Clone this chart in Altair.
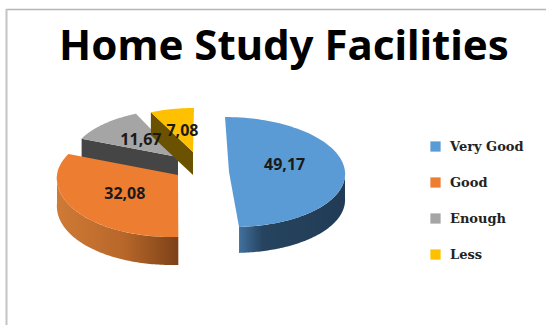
import numpy as np
import altair as alt

TITLE = "Home Study Facilities"
categories = ["Very Good", "Good", "Enough", "Less"]
values = [49.17, 32.08, 11.67, 7.08]
labels = ["49,17", "32,08", "11,67", "7,08"]
top_colors = ["#5b9bd5", "#ed7d31", "#a5a5a5", "#ffc000"]

# Tilted pie geometry for each exploded slice, in page pixels.
slices = {
    "Very Good": dict(cx=229, cy=172, a=116, b_back=55, b_front=55, shear=-4, depth=26, label=(0.48, -6)),
    "Good": dict(cx=178, cy=175, a=121, b_back=55, b_front=62, shear=6, depth=28, label=(0.52, 0)),
    "Enough": dict(cx=178, cy=157, a=106, b_back=48, b_front=48, shear=4, depth=23, label=(0.50, 0)),
    "Less": dict(cx=193, cy=152, a=100, b_back=44, b_front=44, shear=1, depth=23, label=(0.50, 0)),
}

wall_fills = {
    "Very Good": alt.Gradient(
        gradient="linear", x1=0, x2=1, y1=0, y2=0,
        stops=[alt.GradientStop(offset=0, color="#41719f"),
               alt.GradientStop(offset=0.22, color="#26445f"),
               alt.GradientStop(offset=1, color="#213b56")]),
    "Good": alt.Gradient(
        gradient="linear", x1=0, x2=1, y1=0, y2=0,
        stops=[alt.GradientStop(offset=0, color="#cf7a36"),
               alt.GradientStop(offset=0.55, color="#b8672a"),
               alt.GradientStop(offset=1, color="#7c4118")]),
    "Enough": "#454545",
    "Less": "#6b5200",
}

# Clock angles in degrees: each slice follows the previous one from 12 o'clock.
ends = np.cumsum(values) / sum(values) * 360
starts = np.concatenate([[0], ends[:-1]])
spans = {c: (s, e) for c, s, e in zip(categories, starts, ends)}


def point(name, deg, drop=0.0, frac=1.0):
    g = slices[name]
    t = np.radians(deg)
    b = g["b_back"] if np.cos(t) >= 0 else g["b_front"]
    x = g["cx"] + frac * (g["a"] * np.sin(t) + g["shear"] * np.cos(t))
    y = g["cy"] - frac * b * np.cos(t) + drop
    return [float(x), float(y)]


def feature(name, ring):
    ring = list(ring) + [ring[0]]
    return {
        "type": "Feature",
        "properties": {"name": name},
        "geometry": {"type": "Polygon", "coordinates": [ring]},
    }


def top_face(name):
    s, e = spans[name]
    g = slices[name]
    arc = [point(name, d) for d in np.linspace(s, e, 90)]
    return feature(name, [[g["cx"], g["cy"]]] + arc)


def walls(name):
    """Outer rim and the cut edge that faces the viewer."""
    s, e = spans[name]
    g = slices[name]
    depth = g["depth"]
    out = []
    lo, hi = max(s, 90), min(e, 270)
    if lo < hi:
        arc = [point(name, d) for d in np.linspace(lo, hi, 90)]
        low = [[x, y + depth] for x, y in reversed(arc)]
        out.append(feature(name, arc + low))
    # Flat cut running from the apex to the left end of the arc.
    if s > 270:
        p = point(name, s)
        c = [g["cx"], g["cy"]]
        out.append(feature(name, [p, c, [c[0], c[1] + depth], [p[0], p[1] + depth]]))
    return out


projection = alt.Projection(type="identity", scale=1, translate=[0, 0])
color = alt.Color(
    "properties.name:N",
    scale=alt.Scale(domain=categories, range=top_colors),
    sort=categories,
    legend=alt.Legend(
        title=None, orient="none", legendX=429, legendY=140,
        symbolType="square", symbolSize=105, symbolStrokeWidth=0, symbolOpacity=1,
        labelFont="DejaVu Serif", labelFontSize=13, labelFontWeight="bold",
        labelColor="#222222", labelOffset=8, rowPadding=22, labelLimit=120,
    ),
)

layers = []
for name in ["Enough", "Less", "Good", "Very Good"]:
    wall = walls(name)
    if wall:
        layers.append(
            alt.Chart(alt.Data(values=wall))
            .mark_geoshape(fill=wall_fills[name], stroke=None)
            .project(**projection.to_dict())
        )
    layers.append(
        alt.Chart(alt.Data(values=[top_face(name)]))
        .mark_geoshape(stroke=None)
        .encode(color=color)
        .project(**projection.to_dict())
    )

# Value labels sit halfway along each slice's middle angle.
label_rows = []
for name, text, s, e in zip(categories, labels, starts, ends):
    frac, shift = slices[name]["label"]
    x, y = point(name, (s + e) / 2, frac=frac)
    label_rows.append({"lon": x, "lat": y + shift, "text": text})

value_labels = (
    alt.Chart(alt.Data(values=label_rows))
    .mark_text(font="Noto Sans", fontSize=16, fontWeight="bold", color="#1a1a1a")
    .encode(longitude="lon:Q", latitude="lat:Q", text="text:N")
    .project(**projection.to_dict())
)

title_text = (
    alt.Chart(alt.Data(values=[{"t": TITLE}]))
    .mark_text(font="Noto Sans", fontSize=42, fontWeight="bold", color="#000000", baseline="alphabetic")
    .encode(x=alt.value(284), y=alt.value(60), text="t:N")
)

frame_top = alt.Chart(alt.Data(values=[{"v": 0}])).mark_rule(color="#b5b5b5", strokeWidth=1.5).encode(
    x=alt.value(6), x2=alt.value(546), y=alt.value(9.5)
)
frame_left = alt.Chart(alt.Data(values=[{"v": 0}])).mark_rule(color="#c4c4c4", strokeWidth=2).encode(
    x=alt.value(6.5), y=alt.value(9), y2=alt.value(325)
)

chart = (
    alt.layer(frame_top, frame_left, title_text, *layers, value_labels)
    .properties(
        width=546, height=325, padding=0,
        autosize=alt.AutoSizeParams(type="none"),
        background="#ffffff",
    )
    .configure_view(stroke=None)
)

chart.save("out.html", embed_options={"renderer": "svg", "actions": False})
